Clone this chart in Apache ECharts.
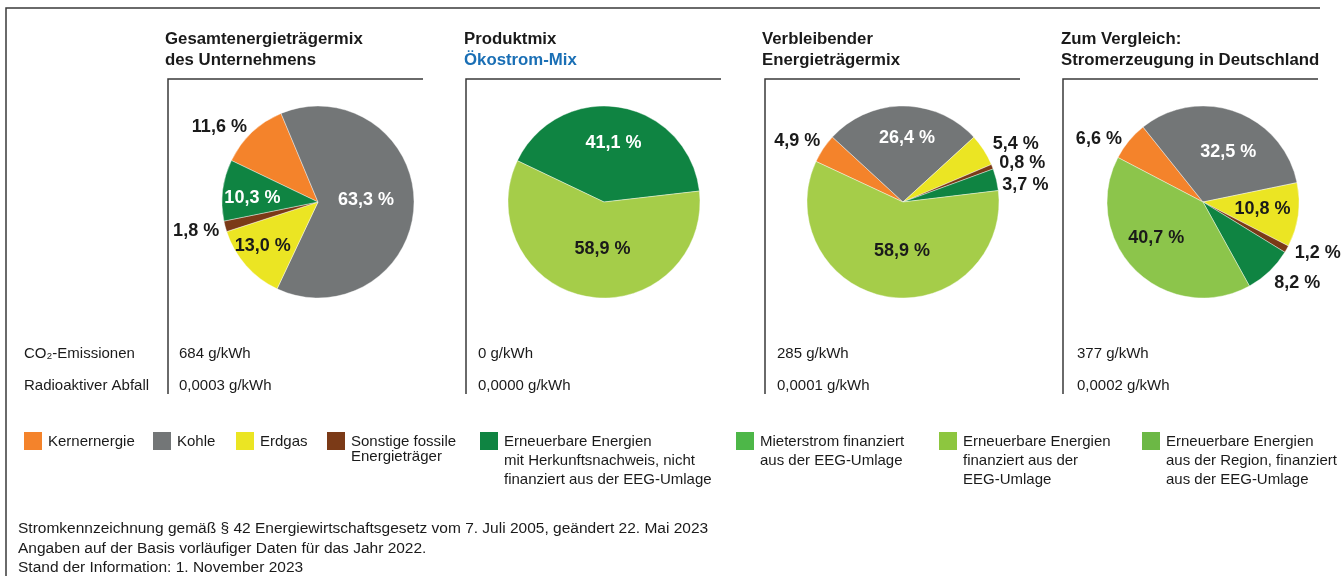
<!DOCTYPE html>
<html>
<head>
<meta charset="utf-8">
<script src="https://cdn.jsdelivr.net/npm/echarts@6/dist/echarts.min.js"></script>
<style>
  html, body { margin: 0; padding: 0; background: #fff; }
  #chart { width: 1341px; height: 576px; }
</style>
</head>
<body>
<div id="chart"></div>
<script>
// Energieträger in Legendenreihenfolge
const categories = [
  'Kernernergie', 'Kohle', 'Erdgas', 'Sonstige fossile Energieträger',
  'Erneuerbare Energien mit Herkunftsnachweis, nicht finanziert aus der EEG-Umlage',
  'Mieterstrom finanziert aus der EEG-Umlage',
  'Erneuerbare Energien finanziert aus der EEG-Umlage',
  'Erneuerbare Energien aus der Region, finanziert aus der EEG-Umlage'
];
const legendLabels = [
  'Kernernergie', 'Kohle', 'Erdgas', 'Sonstige fossile\nEnergieträger',
  'Erneuerbare Energien\nmit Herkunftsnachweis, nicht\nfinanziert aus der EEG-Umlage',
  'Mieterstrom finanziert\naus der EEG-Umlage',
  'Erneuerbare Energien\nfinanziert aus der\nEEG-Umlage',
  'Erneuerbare Energien\naus der Region, finanziert\naus der EEG-Umlage'
];

// Anteile in % (0 = nicht enthalten)
const mixUnternehmen  = [11.6, 63.3, 13.0, 1.8, 10.3, 0, 0, 0];
const mixProdukt      = [0, 0, 0, 0, 41.1, 0, 58.9, 0];
const mixVerbleibend  = [4.9, 26.4, 5.4, 0.8, 3.7, 0, 58.9, 0];
const mixDeutschland  = [6.6, 32.5, 10.8, 1.2, 8.2, 0, 40.7, 0];

const titles = [
  ['Gesamtenergieträgermix', 'des Unternehmens'],
  ['Produktmix', 'Ökostrom-Mix'],
  ['Verbleibender', 'Energieträgermix'],
  ['Zum Vergleich:', 'Stromerzeugung in Deutschland']
];
const co2 = ['684 g/kWh', '0 g/kWh', '285 g/kWh', '377 g/kWh'];
const abfall = ['0,0003 g/kWh', '0,0000 g/kWh', '0,0001 g/kWh', '0,0002 g/kWh'];
const footnotes = [
  'Stromkennzeichnung gemäß § 42 Energiewirtschaftsgesetz vom 7. Juli 2005, geändert 22. Mai 2023',
  'Angaben auf der Basis vorläufiger Daten für das Jahr 2022.',
  'Stand der Information: 1. November 2023'
];

// Farben
const colors = ['#f4832b', '#737677', '#ebe523', '#7b3a17', '#0f8442', '#4db748', '#8dc63f', '#6cb845'];
const pieGreen = ['#a5cd49', '#a5cd49', '#a5cd49', '#8cc54b'];
const FONT = '"Liberation Sans", Arial, Helvetica, sans-serif';
const TXT = '#1a1a1a';

// Layout
const sectionX = [168, 466, 765, 1063];
const sectionW = 255;
const headX = [165, 464, 762, 1061];
const valueX = [179, 478, 777, 1077];
const pieX = [318, 604, 903, 1203];
const startAngles = [154.4, 154.5, 155, 152.4];
const outside = [[0, 3], [], [0, 2, 3, 4], [0, 3, 4]];
const nudge = [
  { 0: [-2, -5], 1: [-3, -3], 2: [-17, 10], 3: [-3, 5], 4: [-15, 2] },
  { 4: [1, -9], 6: [7, -3] },
  { 0: [0, -8], 1: [4, -13], 2: [6, -6], 3: [4, -4], 4: [3, 5], 6: [7, -1] },
  { 0: [-4, -2], 1: [8, -2], 2: [9, 0], 3: [5, 4], 4: [2, 12], 6: [-11, 0] }
];
const legendX = [24, 153, 236, 327, 480, 736, 939, 1142];
const legendLH = [19, 19, 19, 15, 19, 19, 19, 19];

const fmt = v => v.toFixed(1).replace('.', ',') + ' %';

const chart = echarts.init(document.getElementById('chart'));

const series = [mixUnternehmen, mixProdukt, mixVerbleibend, mixDeutschland].map((mix, s) => {
  const data = [];
  mix.forEach((v, i) => {
    if (!v) return;
    const out = outside[s].includes(i);
    data.push({
      name: categories[i],
      value: v,
      cat: i,
      itemStyle: { color: i === 6 ? pieGreen[s] : colors[i] },
      label: {
        position: out ? 'outside' : 'inside',
        color: (!out && (i === 1 || i === 4)) ? '#fff' : TXT
      }
    });
  });
  return {
    type: 'pie',
    center: [pieX[s], 202],
    radius: 96,
    startAngle: startAngles[s],
    clockwise: true,
    avoidLabelOverlap: false,
    silent: true,
    animation: false,
    itemStyle: { borderColor: '#fff', borderWidth: 0.4 },
    label: {
      show: true,
      formatter: p => fmt(p.value),
      fontFamily: FONT,
      fontWeight: 'bold',
      fontSize: 18,
      distanceToLabelLine: 3
    },
    labelLine: { show: false, length: 0, length2: 0 },
    labelLayout: p => {
      const n = nudge[s][data[p.dataIndex].cat] || [0, 0];
      return { dx: n[0], dy: n[1] };
    },
    emphasis: { disabled: true },
    data
  };
});

const text = (x, y, str, opt) => ({
  type: 'text', x, y, silent: true,
  style: Object.assign({
    text: str, fill: TXT, fontFamily: FONT, fontSize: 15,
    align: 'left', textAlign: 'left', verticalAlign: 'middle', textVerticalAlign: 'middle'
  }, opt || {})
});

const graphic = [];
// Rahmen
graphic.push({
  type: 'polyline', silent: true,
  shape: { points: [[6, 576], [6, 8], [1320, 8]] },
  style: { stroke: '#3a3a3a', lineWidth: 1.5, fill: null }
});
sectionX.forEach((x, s) => {
  graphic.push({
    type: 'polyline', silent: true,
    shape: { points: [[x, 394], [x, 79], [x + sectionW, 79]] },
    style: { stroke: '#3a3a3a', lineWidth: 1.5, fill: null }
  });
  graphic.push(text(headX[s], 39.5, titles[s][0], { fontSize: 16.8, fontWeight: 'bold' }));
  graphic.push(text(headX[s], 60.5, titles[s][1], {
    fontSize: 16.8, fontWeight: 'bold', fill: s === 1 ? '#1a6fb5' : TXT
  }));
  graphic.push(text(valueX[s], 354, co2[s]));
  graphic.push(text(valueX[s], 386, abfall[s]));
});
graphic.push(text(24, 354, 'CO₂-Emissionen'));
graphic.push(text(24, 386, 'Radioaktiver Abfall'));

// Legende
legendLabels.forEach((lab, i) => {
  graphic.push({
    type: 'rect', silent: true,
    shape: { x: legendX[i], y: 432, width: 18, height: 18 },
    style: { fill: colors[i] }
  });
  graphic.push({
    type: 'text', x: legendX[i] + 24, y: 442 - legendLH[i] / 2, silent: true,
    style: {
      text: lab, fill: TXT, fontFamily: FONT, fontSize: 15, lineHeight: legendLH[i],
      align: 'left', textAlign: 'left', verticalAlign: 'top', textVerticalAlign: 'top'
    }
  });
});

// Fußnoten
[529, 549, 568].forEach((y, i) => graphic.push(text(18, y, footnotes[i], { fontSize: 15.5 })));

chart.setOption({
  animation: false,
  series,
  graphic
});

window.addEventListener('resize', () => chart.resize());
</script>
</body>
</html>
